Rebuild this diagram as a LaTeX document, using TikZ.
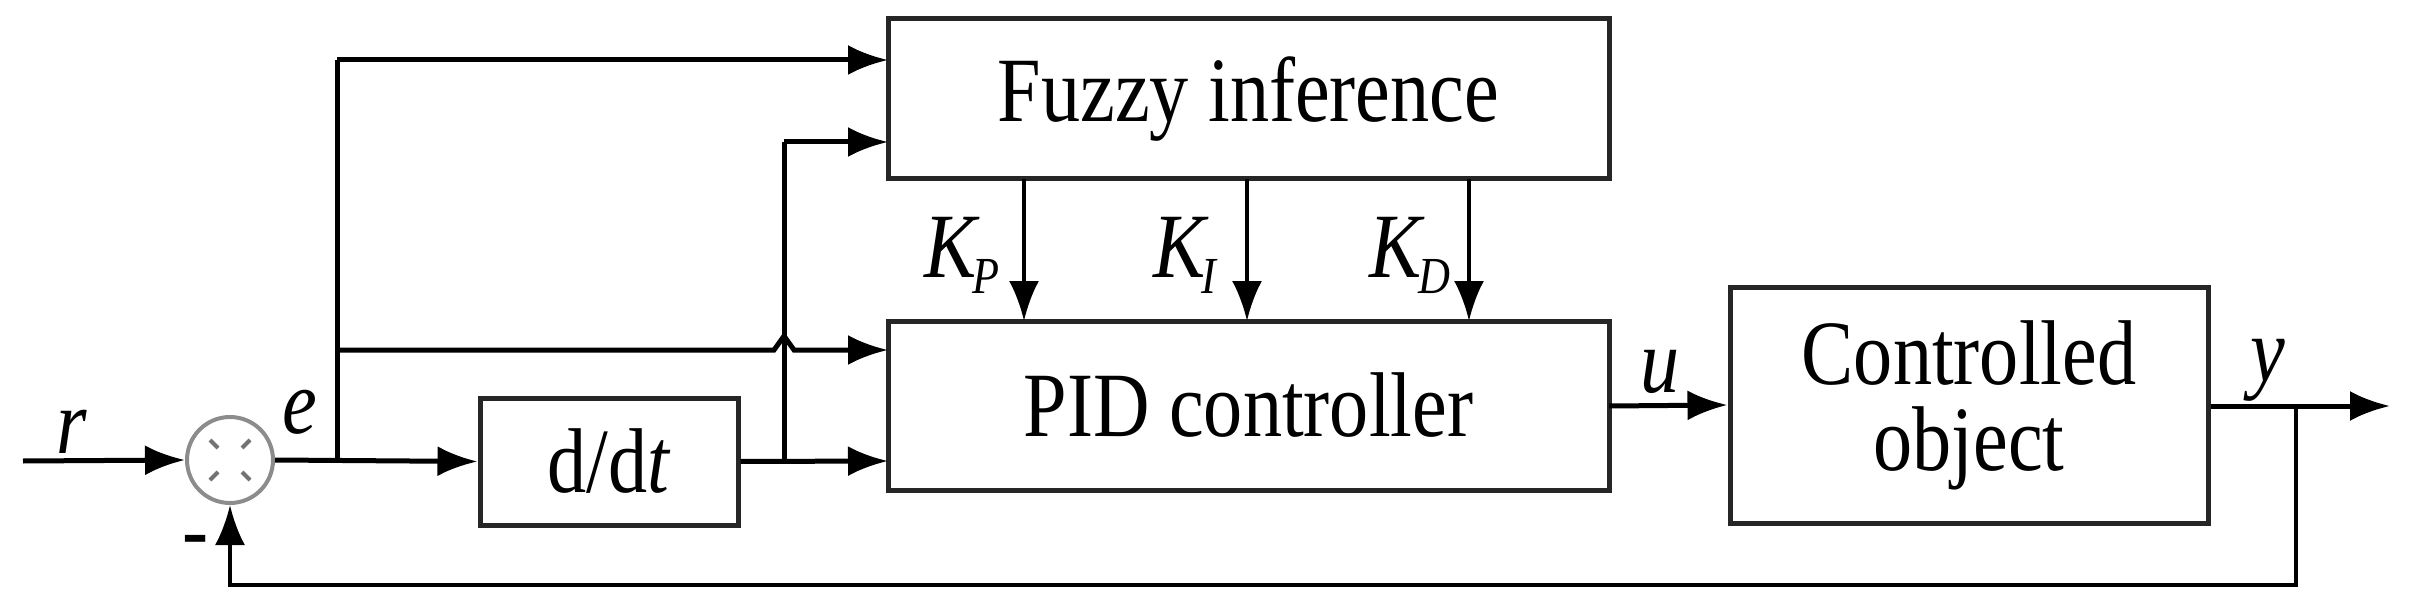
\documentclass[tikz,border=0pt]{standalone}
\usepackage{fontspec}
\setmainfont{Liberation Serif}[FakeStretch=0.85]
\usetikzlibrary{arrows.meta}
\newcommand{\ksub}[1]{K\kern-4pt\raisebox{-16pt}{\fontsize{52}{52}\selectfont #1}}
\begin{document}
\begin{tikzpicture}[x=1pt,y=-1pt,
  box/.style={draw=black!85,line width=5pt,inner sep=0pt},
  ln/.style={line width=5pt,draw=black},
  arr/.style={ln,-{Latex[length=40pt,width=30pt]}},
  lbl/.style={font=\fontsize{92}{100}\selectfont},
  mlbl/.style={font=\fontsize{92}{100}\selectfont\itshape}]
\useasboundingbox (0,0) rectangle (2410,604);
\node[box,minimum width=721pt,minimum height=160pt,lbl] (fz) at (1248.5,99) {Fuzzy inference};
\node[box,minimum width=721pt,minimum height=169pt,lbl] (pid) at (1248.5,405.5) {PID controller};
\node[box,minimum width=478pt,minimum height=236pt,lbl,align=center] (obj) at (1969,405) {Controlled\\[-14pt]object};
\node[box,minimum width=258pt,minimum height=127pt,lbl] (dd) at (609,461.5) {d/d\textit{t}};
\node[circle,draw=black!45,line width=4pt,minimum size=86pt,inner sep=0pt] (s) at (230,460) {};
\draw[black!55,line width=4pt] (s.center) ++(-20,-20) -- ++(8,8) (s.center) ++(20,-20) -- ++(-8,8)
  (s.center) ++(-20,20) -- ++(8,-8) (s.center) ++(20,20) -- ++(-8,-8);
\coordinate (rin) at (23,461);
\coordinate (e1) at (337,461);
\coordinate (d1) at (784,461);
\coordinate (yb) at (2296,406);
\coordinate (yout) at (2390,406);
\draw[arr] (rin) -- (s.west);
\draw[arr] (s.east) -- (dd.west);
\draw[ln] (e1) -- (337,60);
\draw[arr] (337,60) -- (888,60);
\draw[arr] (337,350) -- (774,350) -- (784,336) -- (794,350) -- (888,350);
\draw[arr] (dd.east) -- (888,461);
\draw[ln] (d1) -- (784,142);
\draw[arr] (784,142) -- (888,142);
\draw[arr,line width=4pt] (1024,179) -- (1024,321);
\draw[arr,line width=4pt] (1247,179) -- (1247,321);
\draw[arr,line width=4pt] (1469,179) -- (1469,321);
\draw[arr] (1609,406) -- (obj.west);
\draw[arr] (obj.east |- yout) -- (yout);
\draw[arr,line width=4pt] (yb) -- (2296,585) -- (230,585) -- (s.south);
\node[mlbl] (r) at (72,432) {r};
\node[mlbl] (e) at (300,412) {e};
\node[lbl] (m) at (196,548) {-};
\node[mlbl] (u) at (1660,372) {u};
\node[mlbl] (y) at (2268,370) {y};
\node[mlbl] (kp) at (962,255) {\ksub{P}};
\node[mlbl] (ki) at (1185,255) {\ksub{I}};
\node[mlbl] (kd) at (1410,255) {\ksub{D}};
\end{tikzpicture}
\end{document}
